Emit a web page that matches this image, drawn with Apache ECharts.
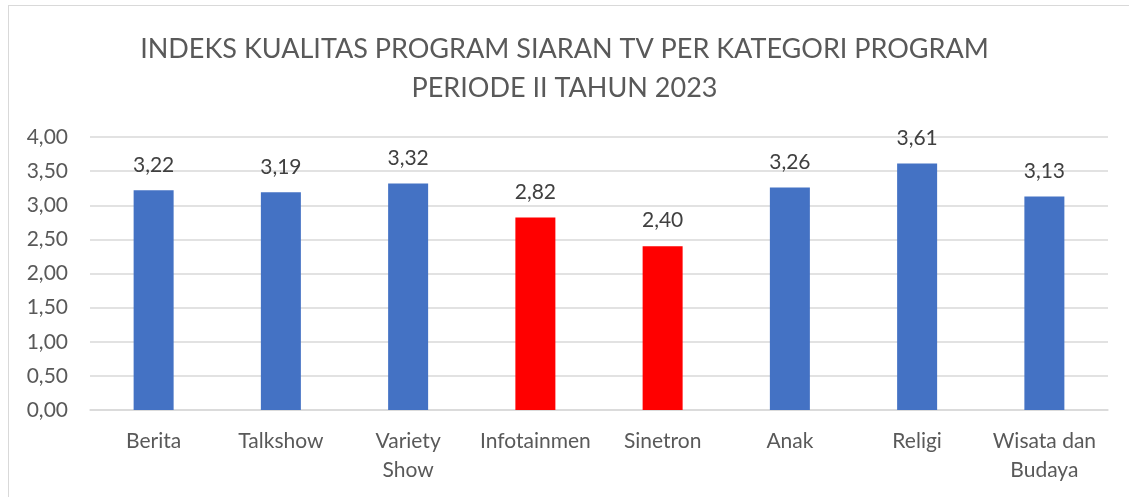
<!DOCTYPE html>
<html>
<head>
    <meta charset="utf-8">
    <title>Indeks Kualitas Program Siaran TV</title>
    <script src="https://cdn.jsdelivr.net/npm/echarts@6/dist/echarts.min.js"></script>
    <style>
        html, body { margin: 0; padding: 0; background: #fff; }
        #frame { position: absolute; left: 8px; top: 5px; width: 1130px; height: 500px;
                 border-top: 1px solid #d9d9d9; border-left: 1px solid #d9d9d9; }
        #main { position: absolute; left: 0; top: 0; width: 1129px; height: 497px; }
    </style>
</head>
<body>
<div id="frame"></div>
<div id="main"></div>
<script type="text/javascript">
    // data
    var categories = ['Berita', 'Talkshow', 'Variety\nShow', 'Infotainmen', 'Sinetron', 'Anak', 'Religi', 'Wisata dan\nBudaya'];
    var values = [3.22, 3.19, 3.32, 2.82, 2.40, 3.26, 3.61, 3.13];
    var redBars = ['Infotainmen', 'Sinetron'];   // highlighted in red
    var yTicks = [0, 0.5, 1, 1.5, 2, 2.5, 3, 3.5, 4];

    var font = 'Lato, "Open Sans", sans-serif';
    var fmt = function (v) { return v.toFixed(2).replace('.', ','); };
    var titleStyle = { fontFamily: font, fontSize: 27, fontWeight: 'normal', color: '#595959' };

    var myChart = echarts.init(document.getElementById('main'));
    myChart.setOption({
        animation: false,
        title: [
            { text: 'INDEKS KUALITAS PROGRAM SIARAN TV PER KATEGORI PROGRAM', left: 'center', top: 31, textStyle: titleStyle },
            { text: 'PERIODE II TAHUN 2023', left: 'center', top: 70, textStyle: titleStyle }
        ],
        grid: { left: 90, right: 21, top: 137, bottom: 87 },
        xAxis: {
            type: 'category',
            data: categories,
            axisLine: { lineStyle: { color: '#d9d9d9', width: 1.5 } },
            axisTick: { show: false },
            axisLabel: { fontFamily: font, fontSize: 21, color: '#595959', margin: 17, lineHeight: 29, interval: 0 }
        },
        yAxis: {
            type: 'value',
            min: yTicks[0],
            max: yTicks[yTicks.length - 1],
            interval: 0.5,
            axisLine: { show: false },
            axisTick: { show: false },
            axisLabel: { fontFamily: font, fontSize: 21, color: '#595959', margin: 22, formatter: fmt },
            splitLine: { lineStyle: { color: '#d9d9d9', width: 1.5 } }
        },
        series: [{
            type: 'bar',
            barWidth: 40,
            data: values.map(function (v, i) {
                return {
                    value: v,
                    itemStyle: { color: redBars.indexOf(categories[i]) >= 0 ? '#ff0000' : '#4472c4' }
                };
            }),
            label: {
                show: true,
                position: 'top',
                distance: 15,
                fontFamily: font,
                fontSize: 21,
                color: '#404040',
                formatter: function (p) { return fmt(p.value); }
            }
        }]
    });
</script>
</body>
</html>
